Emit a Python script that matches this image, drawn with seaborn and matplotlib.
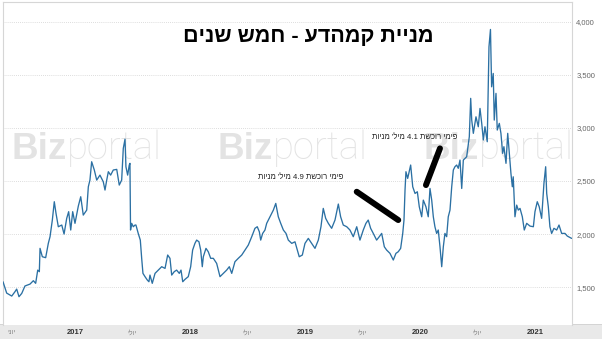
import re
import matplotlib
matplotlib.use("Agg")
import matplotlib.pyplot as plt
import pandas as pd
import seaborn as sns
from matplotlib.patches import Rectangle

# ---------------- data ----------------
title = "מניית קמהדע - חמש שנים"
note_41 = "פימי רוכשת 4.1 מיל' מניות"
note_49 = "פימי רוכשת 4.9 מיל' מניות"
brand_bold = "Biz"
brand_light = "portal"

years = [
    2016.374, 2016.406, 2016.450, 2016.478, 2016.493, 2016.513, 2016.537, 2016.565,
    2016.609, 2016.638, 2016.658, 2016.676, 2016.690, 2016.696, 2016.716, 2016.745,
    2016.768, 2016.783, 2016.803, 2016.820, 2016.835, 2016.855, 2016.885, 2016.905,
    2016.928, 2016.945, 2016.963, 2016.980, 2017.000, 2017.029, 2017.050, 2017.072,
    2017.102, 2017.116, 2017.130, 2017.145, 2017.168, 2017.189, 2017.217, 2017.246,
    2017.261, 2017.276, 2017.290, 2017.310, 2017.333, 2017.363, 2017.385, 2017.406,
    2017.420, 2017.435, 2017.443, 2017.458, 2017.472, 2017.478, 2017.483, 2017.493,
    2017.507, 2017.522, 2017.530, 2017.550, 2017.568, 2017.580, 2017.591, 2017.609,
    2017.629, 2017.643, 2017.652, 2017.672, 2017.696, 2017.724, 2017.754, 2017.783,
    2017.806, 2017.826, 2017.841, 2017.863, 2017.884, 2017.907, 2017.922, 2017.937,
    2017.957, 2017.985, 2018.006, 2018.023, 2018.043, 2018.058, 2018.078, 2018.093,
    2018.107, 2018.116, 2018.139, 2018.159, 2018.180, 2018.203, 2018.232, 2018.261,
    2018.290, 2018.319, 2018.342, 2018.363, 2018.391, 2018.420, 2018.450, 2018.478,
    2018.507, 2018.537, 2018.565, 2018.585, 2018.603, 2018.615, 2018.632, 2018.652,
    2018.667, 2018.696, 2018.725, 2018.746, 2018.768, 2018.789, 2018.812, 2018.835,
    2018.855, 2018.885, 2018.913, 2018.933, 2018.950, 2018.977, 2019.000, 2019.029,
    2019.058, 2019.087, 2019.116, 2019.139, 2019.159, 2019.180, 2019.203, 2019.232,
    2019.261, 2019.290, 2019.310, 2019.333, 2019.363, 2019.391, 2019.420, 2019.450,
    2019.478, 2019.507, 2019.530, 2019.550, 2019.571, 2019.594, 2019.623, 2019.646,
    2019.667, 2019.690, 2019.710, 2019.739, 2019.768, 2019.791, 2019.811, 2019.832,
    2019.850, 2019.861, 2019.870, 2019.878, 2019.893, 2019.919, 2019.937, 2019.957,
    2019.977, 2019.994, 2020.015, 2020.029, 2020.052, 2020.072, 2020.087, 2020.102,
    2020.116, 2020.130, 2020.145, 2020.159, 2020.174, 2020.189, 2020.203, 2020.217,
    2020.232, 2020.246, 2020.261, 2020.276, 2020.290, 2020.304, 2020.319, 2020.333,
    2020.348, 2020.363, 2020.377, 2020.406, 2020.429, 2020.441, 2020.450, 2020.464,
    2020.487, 2020.507, 2020.522, 2020.537, 2020.551, 2020.565, 2020.585, 2020.600,
    2020.613, 2020.623, 2020.637, 2020.646, 2020.661, 2020.672, 2020.690, 2020.704,
    2020.719, 2020.730, 2020.748, 2020.763, 2020.777, 2020.791, 2020.803, 2020.811,
    2020.826, 2020.841, 2020.855, 2020.870, 2020.890, 2020.907, 2020.928, 2020.957,
    2020.986, 2021.000, 2021.020, 2021.037, 2021.058, 2021.078, 2021.093, 2021.102,
    2021.116, 2021.130, 2021.145, 2021.165, 2021.189, 2021.209, 2021.232, 2021.261,
    2021.281, 2021.304, 2021.319,
]
prices = [
    1550, 1443, 1415, 1456, 1481, 1409, 1440, 1510,
    1528, 1560, 1535, 1660, 1645, 1865, 1786, 1777,
    1912, 1975, 2132, 2305, 2195, 2069, 2085, 2000,
    2148, 2211, 2038, 2211, 2101, 2264, 2352, 2179,
    2226, 2446, 2509, 2682, 2604, 2509, 2556, 2493,
    2415, 2509, 2588, 2556, 2604, 2610, 2462, 2509,
    2808, 2895, 2635, 2556, 2651, 2667, 2038, 2101,
    2069, 2085, 2085, 2006, 1943, 1770, 1629, 1598,
    1566, 1550, 1613, 1535, 1629, 1660, 1692, 1676,
    1802, 1771, 1613, 1645, 1660, 1629, 1660, 1550,
    1573, 1598, 1692, 1849, 1912, 1943, 1927, 1849,
    1692, 1786, 1865, 1833, 1771, 1771, 1723, 1598,
    1629, 1660, 1692, 1629, 1739, 1771, 1802, 1849,
    1896, 1975, 2054, 2069, 2022, 1943, 2006, 2038,
    2101, 2163, 2226, 2289, 2163, 2101, 2038, 2006,
    1943, 1912, 1927, 1849, 1786, 1802, 1912, 1959,
    1912, 1865, 1943, 2069, 2242, 2148, 2101, 2054,
    2132, 2283, 2163, 2085, 2069, 2038, 1975, 2069,
    1943, 2038, 2101, 2132, 2054, 2006, 1943, 1975,
    2006, 1880, 1849, 1818, 1755, 1818, 1833, 1865,
    2006, 2132, 2415, 2588, 2525, 2651, 2446, 2383,
    2399, 2257, 2163, 2320, 2257, 2163, 2430, 2320,
    2163, 2069, 2006, 2038, 1880, 1692, 1880, 2006,
    1975, 2163, 2226, 2446, 2604, 2635, 2651, 2620,
    2698, 2430, 2698, 2729, 2918, 3280, 3075, 2950,
    3106, 3012, 3185, 3044, 2887, 3012, 2871, 3766,
    3930, 3389, 3515, 3075, 3327, 2981, 3044, 2950,
    2761, 2824, 2667, 2950, 2761, 2572, 2446, 2540,
    2163, 2273, 2226, 2242, 2163, 2038, 2101, 2075,
    2069, 2211, 2305, 2257, 2148, 2478, 2635, 2383,
    2257, 2069, 2006, 2054, 2038, 2085, 2006, 2006,
    1981, 1968, 1959,
]

x_tick_pos = [2016.45, 2017.0, 2017.5, 2018.0, 2018.5, 2019.0, 2019.5, 2020.0, 2020.5, 2021.0]
x_tick_labels = ["יוני", "2017", "יולי", "2018", "יולי", "2019", "יולי", "2020", "יולי", "2021"]
y_ticks = [1500, 2000, 2500, 3000, 3500, 4000]

# annotation strokes and note anchors (time, price)
stroke_49_t = [2019.450, 2019.811]
stroke_49_p = [2399, 2132]
stroke_41_t = [2020.052, 2020.174]
stroke_41_p = [2462, 2808]
note_41_at = (2020.322, 2915)
note_49_at = (2019.330, 2538)

HEB = re.compile("[\u0590-\u05FF]")


def visual(s):
    """Simple RTL visual reordering for display (matplotlib has no bidi)."""
    return " ".join(t[::-1] if HEB.search(t) else t for t in reversed(s.split(" ")))


# ---------------- plot ----------------
sns.set_theme(style="white")
plt.rcParams["font.family"] = ["Liberation Sans", "DejaVu Sans"]

W, H = 602, 339
fig = plt.figure(figsize=(W / 100, H / 100), dpi=100)
fig.patch.set_facecolor("white")
ax = fig.add_axes([3 / W, 1 - 325 / H, (572 - 3) / W, (325 - 2) / H])

# bottom grey band for time axis
fig.add_artist(Rectangle((0, 0), 1, 14 / H, transform=fig.transFigure,
                         facecolor="#e9e9e9", edgecolor="none", zorder=-5))
fig.add_artist(Rectangle((0, 14 / H), 1, 0.6 / H, transform=fig.transFigure,
                         facecolor="#d4d4d4", edgecolor="none", zorder=-4))

df = pd.DataFrame({"t": years, "price": prices})

# watermark
for fx in [9 / 569, 215 / 569, 421 / 569]:
    b = ax.text(fx, (325 - 167) / 323, brand_bold, transform=ax.transAxes,
                fontsize=26.5, fontweight="bold", color="#e3e3e3",
                family=["Liberation Sans", "DejaVu Sans"], va="bottom", ha="left",
                zorder=0, clip_on=False)
    ax.annotate(brand_light, xy=(1, 0), xycoords=b, fontsize=27.5,
                fontweight="light", color="#e3e3e3",
                family=["Roboto", "Liberation Sans"], va="bottom", ha="left",
                zorder=0, annotation_clip=False)

sns.lineplot(data=df, x="t", y="price", ax=ax, color="#2b70a3", linewidth=0.95,
             zorder=3)

ax.plot(stroke_49_t, stroke_49_p, color="black", linewidth=4.3,
        solid_capstyle="round", zorder=4)
ax.plot(stroke_41_t, stroke_41_p, color="black", linewidth=4.3,
        solid_capstyle="round", zorder=4)

ax.text(note_41_at[0], note_41_at[1], visual(note_41), ha="right", va="center",
        fontsize=5.6, color="#222222", zorder=5)
ax.text(note_49_at[0], note_49_at[1], visual(note_49), ha="right", va="center",
        fontsize=5.6, color="#222222", zorder=5)

ax.set_xlim(2016.374, 2021.322)
ax.set_ylim(1142, 4189)
ax.set_xlabel("")
ax.set_ylabel("")

ax.set_yticks(y_ticks)
ax.set_yticklabels([f"{v:,}" for v in y_ticks])
ax.yaxis.tick_right()
ax.tick_params(axis="y", length=0, pad=3, labelsize=5.5, labelcolor="#666666")
ax.yaxis.grid(True, linestyle=(0, (1, 1.5)), color="#d2d2d2", linewidth=0.6)
ax.xaxis.grid(False)

ax.set_xticks(x_tick_pos)
ax.set_xticklabels([visual(s) for s in x_tick_labels])
ax.tick_params(axis="x", length=0, pad=3, labelsize=5.5)
for lbl, raw in zip(ax.get_xticklabels(), x_tick_labels):
    if raw.isdigit():
        lbl.set_color("#333333")
        lbl.set_fontweight("bold")
    else:
        lbl.set_color("#888888")
        lbl.set_fontsize(5)

for side in ["left", "top", "right"]:
    ax.spines[side].set_color("#d6d6d6")
    ax.spines[side].set_linewidth(0.8)
ax.spines["bottom"].set_visible(False)

fig.text(308 / W, 1 - 42 / H, visual(title), ha="center", va="baseline",
         fontsize=15.5, fontweight="bold", color="black")

fig.savefig("out.png", dpi=100, facecolor="white")
